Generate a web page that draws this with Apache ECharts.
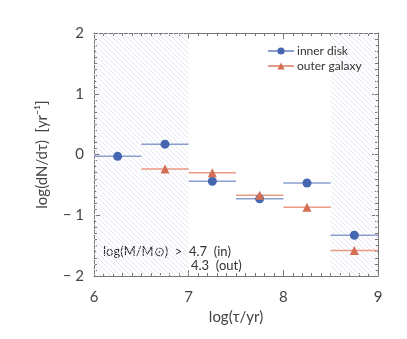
<!DOCTYPE html>
<html><head><meta charset="utf-8">
<script src="https://cdn.jsdelivr.net/npm/echarts@6/dist/echarts.min.js"></script>
<style>html,body{margin:0;padding:0;background:#fff}#c{width:407px;height:339px}</style>
</head><body><div id="c"></div>
<script>
// Data
var binCenters = [6.25, 6.75, 7.25, 7.75, 8.25, 8.75];
var binHalfWidth = 0.25;
var innerValues = [-0.03, 0.17, -0.44, -0.73, -0.47, -1.33];
var outerValues = [null, -0.24, -0.30, -0.67, -0.87, -1.58];
var shadedRanges = [[6, 7], [8.5, 9]];

function segData(vals) {
  var d = [];
  for (var i = 0; i < binCenters.length; i++) {
    if (vals[i] == null) continue;
    d.push([binCenters[i] - binHalfWidth, vals[i], 0]);
    d.push([binCenters[i], vals[i], 1]);
    d.push([binCenters[i] + binHalfWidth, vals[i], 0]);
    d.push([binCenters[i] + binHalfWidth, null, 0]);
  }
  return d;
}

var pc = document.createElement('canvas');
pc.width = 5; pc.height = 5;
var g = pc.getContext('2d');
g.strokeStyle = '#e0e2f2';
g.lineWidth = 0.9;
g.beginPath();
g.moveTo(-1, -1); g.lineTo(6, 6);
g.moveTo(-1, 4); g.lineTo(1, 6);
g.moveTo(4, -1); g.lineTo(6, 1);
g.stroke();

var font = 'Lato';
var txt = '#444';
var chart = echarts.init(document.getElementById('c'), null, {renderer: 'canvas'});
function axisCommon() {
  return {
    axisLine: {show: true, onZero: false, lineStyle: {color: '#777', width: 1}},
    axisTick: {show: true, inside: true, length: 6, lineStyle: {color: '#777'}},
    minorTick: {show: true, splitNumber: 10, length: 3, lineStyle: {color: '#777'}},
    splitLine: {show: false}
  };
}
function fmt(v) { return v < 0 ? '\u2212 ' + Math.abs(v) : String(v); }

chart.setOption({
  animation: false,
  grid: {left: 94, right: 29, top: 33, bottom: 63},
  legend: {
    left: 262, top: 40, orient: 'vertical', itemGap: 3,
    itemWidth: 26, itemHeight: 9,
    textStyle: {fontFamily: font, fontSize: 12, color: '#333', padding: [0, 0, 0, -2]},
    data: ['inner disk', 'outer galaxy']
  },
  xAxis: [
    Object.assign({type: 'value', min: 6, max: 9, interval: 1, position: 'bottom',
      name: 'log(\u03C4/yr)', nameLocation: 'middle', nameGap: 29,
      nameTextStyle: {fontFamily: font, fontSize: 15, color: txt},
      axisLabel: {fontFamily: font, fontSize: 15, color: txt, margin: 14}}, axisCommon()),
    Object.assign({type: 'value', min: 6, max: 9, interval: 1, position: 'top',
      axisLabel: {show: false}}, axisCommon())
  ],
  yAxis: [
    Object.assign({type: 'value', min: -2, max: 2, interval: 1, position: 'left',
      name: 'log(dN/d\u03C4)  [yr\u207B\u00B9]', nameLocation: 'middle', nameGap: 44,
      nameTextStyle: {fontFamily: font, fontSize: 15, color: txt},
      axisLabel: {fontFamily: font, fontSize: 15, color: txt, margin: 10, formatter: fmt}}, axisCommon()),
    Object.assign({type: 'value', min: -2, max: 2, interval: 1, position: 'right',
      axisLabel: {show: false}}, axisCommon())
  ],
  series: [
    {
      name: 'shade', type: 'line', data: [], silent: true,
      markArea: {silent: true, itemStyle: {color: {image: pc, repeat: 'repeat'}},
        data: shadedRanges.map(function (r) { return [{xAxis: r[0]}, {xAxis: r[1]}]; })}
    },
    {
      name: 'inner disk', type: 'line', data: segData(innerValues), connectNulls: false,
      symbol: 'circle', showSymbol: true,
      symbolSize: function (v) { return v[2] ? 9 : 0; },
      lineStyle: {color: '#8a9fd0', width: 1.5},
      itemStyle: {color: '#4566b0', borderWidth: 0}, z: 3
    },
    {
      name: 'outer galaxy', type: 'line', data: segData(outerValues), connectNulls: false,
      symbol: 'triangle', showSymbol: true,
      symbolSize: function (v) { return v[2] ? 9 : 0; },
      lineStyle: {color: '#e79a86', width: 1.5},
      itemStyle: {color: '#d36e52', borderWidth: 0}, z: 3
    }
  ],
  graphic: [
    {type: 'text', left: 103, top: 245, style: {text: 'log(M/M\u2299)  >  4.7  (in)', font: '13px Lato', fill: '#333'}},
    {type: 'text', left: 191, top: 259, style: {text: '4.3  (out)', font: '13px Lato', fill: '#333'}}
  ]
});
</script></body></html>
